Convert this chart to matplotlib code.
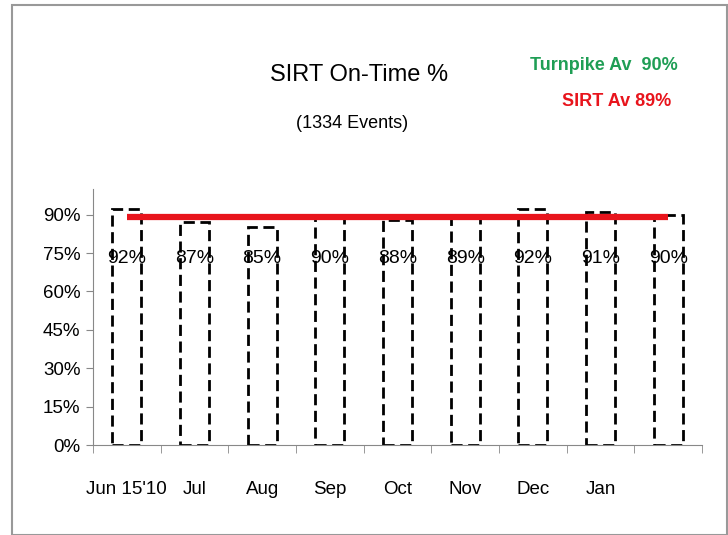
import matplotlib
matplotlib.use("Agg")
import matplotlib.pyplot as plt
from matplotlib.patches import Rectangle
import numpy as np

plt.rcParams['font.family'] = ['Liberation Sans', 'DejaVu Sans']

months = ["Jun 15'10", "Jul", "Aug", "Sep", "Oct", "Nov", "Dec", "Jan", ""]
on_time = [92, 87, 85, 90, 88, 89, 92, 91, 90]
sirt_avg = 89
turnpike_avg = 90
y_ticks = [0, 15, 30, 45, 60, 75, 90]

fig = plt.figure(figsize=(7.28, 5.35), dpi=100)
ax = fig.add_axes([93 / 728, 90 / 535, 609 / 728, 256 / 535])

x = np.arange(len(on_time))
ax.bar(x, on_time, width=0.43, facecolor='white', edgecolor='black',
       linestyle=(0, (4, 2)), linewidth=2, zorder=2)
ax.plot([x[0], x[-1]], [sirt_avg, sirt_avg], color='#e8141c', linewidth=4.5,
        solid_capstyle='butt', zorder=3)

# value labels sit around the 73% mark inside each bar
for xi, v in zip(x, on_time):
    ax.text(xi, 73, f"{v}%", ha='center', va='center', fontsize=14, zorder=4)

ax.set_xlim(-0.5, len(on_time) - 0.5)
ax.set_ylim(0, 100)
ax.set_yticks(y_ticks)
ax.set_yticklabels([f"{t}%" for t in y_ticks], fontsize=13.5)
ax.set_xticks(x)
ax.set_xticklabels(months, fontsize=13.5)
ax.set_xticks(np.arange(len(on_time) + 1) - 0.5, minor=True)
ax.tick_params(axis='x', which='major', length=0, pad=26)
ax.tick_params(axis='x', which='minor', length=6, color='#888888', direction='out')
ax.tick_params(axis='y', length=5, color='#888888', direction='out', pad=4)
for s in ['top', 'right']:
    ax.spines[s].set_visible(False)
ax.spines['left'].set_color('#888888')
ax.spines['bottom'].set_color('#888888')

fig.text(359 / 728, 1 - 75 / 535, "SIRT On-Time %", ha='center', va='center', fontsize=17)
fig.text(352 / 728, 1 - 123 / 535, "(1334 Events)", ha='center', va='center', fontsize=13)
fig.text(604 / 728, 1 - 65 / 535, f"Turnpike Av  {turnpike_avg}%", ha='center', va='center',
         fontsize=13, color='#1f9e55', fontweight='bold')
fig.text(617 / 728, 1 - 101 / 535, f"SIRT Av {sirt_avg}%", ha='center', va='center',
         fontsize=13, color='#e8141c', fontweight='bold')

fig.patches.append(Rectangle((12 / 728, 0), 715 / 728, 530 / 535, transform=fig.transFigure,
                             fill=False, edgecolor='#999999', linewidth=1.5))

fig.savefig("out.png", dpi=100)
